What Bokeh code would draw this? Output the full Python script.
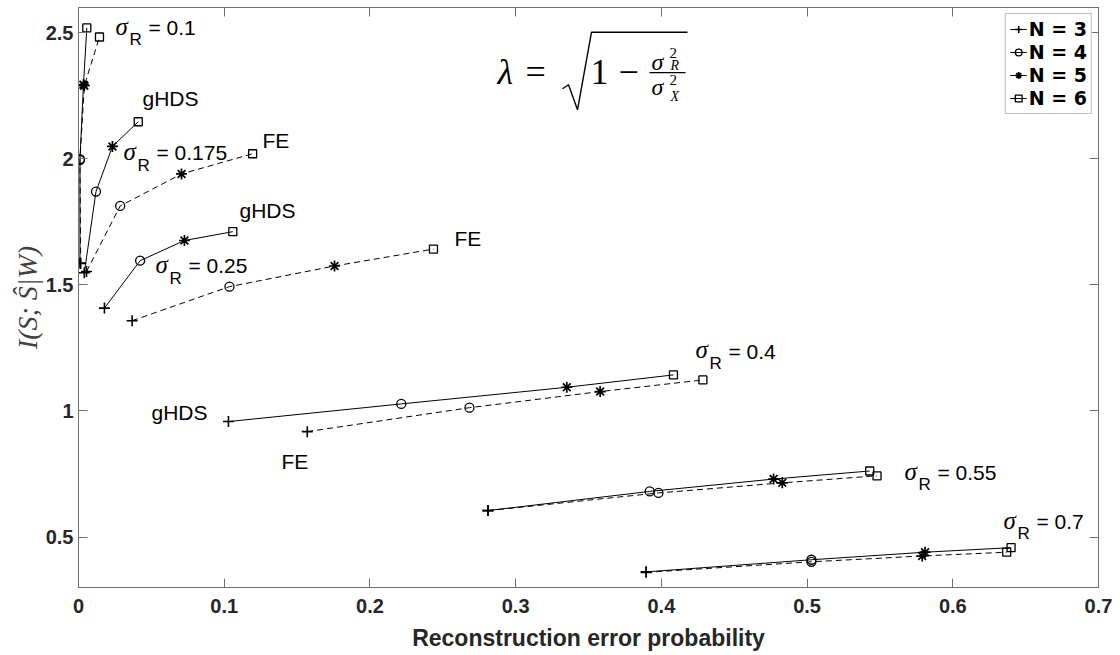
from bokeh.plotting import figure
from bokeh.models import (Range1d, LinearAxis, Legend, LegendItem, Label,
                          BoxAnnotation, FixedTicker, PrintfTickFormatter,
                          CustomJSTickFormatter)
from bokeh.embed import file_html
from bokeh.resources import INLINE

# ---------------- data ----------------
sigma_R = ["0.1", "0.175", "0.25", "0.4", "0.55", "0.7"]
N_labels = ["N = 3", "N = 4", "N = 5", "N = 6"]
markers = ["cross", "circle", "asterisk", "square"]

ghds_err = [
    [0.0010, 0.0010, 0.0034, 0.0057],
    [0.0040, 0.0120, 0.0233, 0.0410],
    [0.0178, 0.0423, 0.0727, 0.1059],
    [0.1029, 0.2215, 0.3351, 0.4083],
    [0.2810, 0.3920, 0.4770, 0.5430],
    [0.3896, 0.5030, 0.5810, 0.6400],
]
ghds_info = [
    [1.587, 1.999, 2.294, 2.519],
    [1.548, 1.870, 2.049, 2.147],
    [1.408, 1.596, 1.676, 1.711],
    [0.958, 1.028, 1.094, 1.143],
    [0.605, 0.681, 0.730, 0.762],
    [0.362, 0.410, 0.440, 0.458],
]
fe_err = [
    [0.0015, 0.0010, 0.0040, 0.0144],
    [0.0055, 0.0286, 0.0707, 0.1195],
    [0.0368, 0.1036, 0.1757, 0.2436],
    [0.1570, 0.2683, 0.3580, 0.4285],
    [0.2810, 0.3980, 0.4830, 0.5480],
    [0.3896, 0.5030, 0.5790, 0.6370],
]
fe_info = [
    [1.585, 1.995, 2.290, 2.483],
    [1.553, 1.813, 1.940, 2.020],
    [1.358, 1.493, 1.575, 1.642],
    [0.918, 1.013, 1.077, 1.123],
    [0.605, 0.675, 0.715, 0.743],
    [0.360, 0.402, 0.425, 0.440],
]
x_ticks = [0, 0.1, 0.2, 0.3, 0.4, 0.5, 0.6, 0.7]
y_ticks = [0.5, 1, 1.5, 2, 2.5]

# ---------------- figure ----------------
AX = "#262626"
p = figure(width=1112, height=653, output_backend="svg", toolbar_location=None,
           x_range=Range1d(0, 0.7), y_range=Range1d(0.3, 2.6),
           min_border_left=78, min_border_right=14, min_border_top=7, min_border_bottom=66)
p.background_fill_color = "white"
p.border_fill_color = "white"
p.outline_line_color = "#707070"
p.xgrid.visible = False
p.ygrid.visible = False

def style_axis(ax, show_labels=True):
    ax.axis_line_color = "#707070"
    ax.major_tick_line_color = "#707070"
    ax.major_tick_in = 9
    ax.major_tick_out = 0
    ax.minor_tick_line_color = None
    ax.major_label_text_font = "Liberation Sans"
    ax.major_label_text_font_style = "bold"
    ax.major_label_text_color = AX
    ax.major_label_text_font_size = "20px"
    if show_labels:
        ax.formatter = PrintfTickFormatter(format="%g")
    else:
        ax.formatter = CustomJSTickFormatter(code="return ''")
        ax.major_label_standoff = 0
        ax.axis_label_standoff = 0

p.xaxis.ticker = FixedTicker(ticks=x_ticks)
p.yaxis.ticker = FixedTicker(ticks=y_ticks)
style_axis(p.xaxis[0])
style_axis(p.yaxis[0])
p.xaxis.major_label_standoff = 11
p.yaxis.major_label_standoff = 5
p.xaxis.axis_label = "Reconstruction error probability"
p.xaxis.axis_label_text_font = "Liberation Sans"
p.xaxis.axis_label_text_font_style = "bold"
p.xaxis.axis_label_text_font_size = "23px"
p.xaxis.axis_label_text_color = AX
p.xaxis.axis_label_standoff = 9
p.yaxis.axis_label = "I(S; Ŝ|W)"
p.yaxis.axis_label_text_font = "Liberation Serif"
p.yaxis.axis_label_text_font_style = "italic"
p.yaxis.axis_label_text_font_size = "28px"
p.yaxis.axis_label_text_color = "#404040"
p.yaxis.axis_label_standoff = 0

top_ax = LinearAxis(ticker=FixedTicker(ticks=x_ticks))
right_ax = LinearAxis(ticker=FixedTicker(ticks=y_ticks))
style_axis(top_ax, False)
style_axis(right_ax, False)
p.add_layout(top_ax, "above")
p.add_layout(right_ax, "right")

# ---------------- lines ----------------
solid_r = None
for xs, ys in zip(ghds_err, ghds_info):
    r = p.line(xs, ys, line_color="black", line_width=1)
    if solid_r is None:
        solid_r = r
for xs, ys in zip(fe_err, fe_info):
    p.line(xs, ys, line_color="black", line_width=1, line_dash="6 4")

# ---------------- markers ----------------
msize = {"cross": 11, "circle": 9, "asterisk": 11, "square": 8}
mwidth = {"cross": 1.6, "circle": 1.3, "asterisk": 1.7, "square": 1.3}
scatter_rs = []
for i, m in enumerate(markers):
    xs = [row[i] for row in ghds_err] + [row[i] for row in fe_err]
    ys = [row[i] for row in ghds_info] + [row[i] for row in fe_info]
    r = p.scatter(xs, ys, marker=m, size=msize[m], line_color="black",
                  line_width=mwidth[m], fill_color=None)
    scatter_rs.append(r)

legend = Legend(items=[LegendItem(label=lab, renderers=[solid_r, sr])
                       for lab, sr in zip(N_labels, scatter_rs)],
                location="top_right", margin=6, padding=4, spacing=1,
                glyph_width=17, glyph_height=22, label_standoff=2,
                label_text_font="DejaVu Sans", label_text_font_style="bold",
                label_text_font_size="19px", label_text_color="black",
                border_line_color="#7f7f7f", border_line_width=1,
                background_fill_color="white", background_fill_alpha=1)
p.add_layout(legend)

# ---------------- annotations ----------------
def dx(px):
    return (px - 79) * 0.7 / 1020.0

def dy(py):
    return 2.6 - (py - 7.8) * 2.3 / 579.6

def txt(px, py, text, font="Liberation Sans", size=21, style="normal"):
    # Bokeh draws alphabetic text slightly below its anchor; compensate
    corr = -0.28 * size
    p.add_layout(Label(x=dx(px), y=dy(py + corr), text=text, text_font=font,
                       text_font_size=f"{size}px", text_font_style=style,
                       text_color="black", text_align="left",
                       text_baseline="alphabetic"))

def sigma_label(px, py, val):
    txt(px, py, "σ", font="Liberation Serif", size=25, style="italic")
    txt(px + 14, py + 11, "R", size=17)
    txt(px + 33, py, "= " + val)

sigma_pos = [(116, 34), (124, 159), (156, 272), (696, 357), (905, 478), (1004, 527)]
for (sx, sy), v in zip(sigma_pos, sigma_R):
    sigma_label(sx, sy, v)

txt(143, 105, "gHDS")
txt(263, 147, "FE")
txt(240, 217, "gHDS")
txt(455, 245, "FE")
txt(152, 418, "gHDS")
txt(282, 467, "FE")

# formula  lambda = sqrt(1 - sigma_R^2 / sigma_X^2)
SERIF = "Liberation Serif"
txt(498, 82, "λ", font=SERIF, size=36, style="italic")
txt(526, 82, "=", font=SERIF, size=36)
p.line([dx(563), dx(569), dx(578), dx(592), dx(688)],
       [dy(89), dy(85), dy(110), dy(32.5), dy(32.5)],
       line_color="black", line_width=1.4)
txt(591, 82, "1", font=SERIF, size=36)
txt(619, 82, "−", font=SERIF, size=36)
p.add_layout(BoxAnnotation(left=dx(650), right=dx(686), top=dy(72.3), bottom=dy(73.6),
                           fill_color="black", fill_alpha=1, line_color=None))
txt(652, 69, "σ", font=SERIF, size=24, style="italic")
txt(670, 57, "2", font=SERIF, size=15)
txt(671, 70, "R", font=SERIF, size=14, style="italic")
txt(652, 94, "σ", font=SERIF, size=24, style="italic")
txt(670, 84, "2", font=SERIF, size=15)
txt(671, 101, "X", font=SERIF, size=14, style="italic")

open("out.html", "w").write(file_html(p, INLINE))
